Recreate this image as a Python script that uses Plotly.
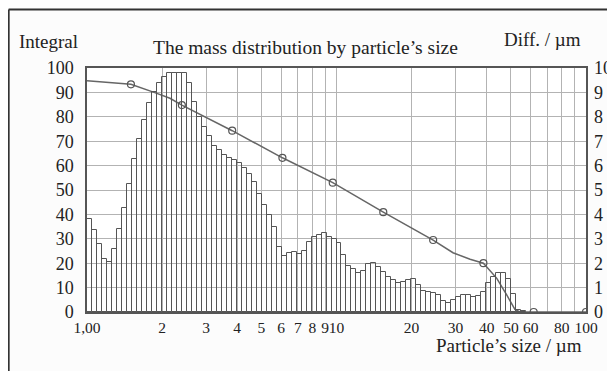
import plotly.graph_objects as go

# ---------------- data ----------------
bins_per_decade = 50
# differential distribution (Diff. / µm, right axis), one value per log-spaced bin starting at 1 µm
diff_values = [
    3.80, 3.36, 2.77, 2.17, 2.04, 2.58, 3.40, 4.27, 5.23, 6.26,
    7.09, 7.87, 8.55, 9.00, 9.37, 9.65, 9.78, 9.80, 9.80, 9.80,
    9.40, 8.60, 8.00, 7.60, 7.20, 6.80, 6.64, 6.43, 6.30, 6.23,
    6.10, 5.90, 5.66, 5.34, 4.84, 4.40, 3.97, 3.50, 2.65, 2.30,
    2.40, 2.47, 2.38, 2.50, 2.88, 3.09, 3.16, 3.25, 3.09, 2.99,
    2.84, 2.35, 1.90, 1.75, 1.60, 1.70, 1.95, 2.00, 1.85, 1.65,
    1.45, 1.30, 1.20, 1.24, 1.31, 1.34, 1.10, 0.85, 0.80, 0.78,
    0.70, 0.45, 0.38, 0.49, 0.60, 0.68, 0.71, 0.63, 0.66, 0.82,
    1.17, 1.42, 1.61, 1.61, 1.34, 0.74, 0.08, 0.03,
]

# integral (cumulative) curve, left axis
curve_x = [1.0, 1.50, 1.87, 2.15, 2.40, 3.82, 6.07, 9.66, 15.4, 24.4,
           29.3, 34.3, 38.8, 43.9, 48.1, 51.9, 54.4, 61.7, 100.0]
curve_y = [94.8, 93.3, 89.9, 87.6, 84.8, 74.3, 63.2, 53.0, 40.9, 29.5,
           24.3, 21.6, 20.0, 13.8, 7.0, 1.1, 0.0, 0.0, 0.0]
marker_x = [1.50, 2.40, 3.82, 6.07, 9.66, 15.4, 24.4, 38.8, 61.7, 100.0]
marker_y = [93.3, 84.8, 74.3, 63.2, 53.0, 40.9, 29.5, 20.0, 0.0, 0.0]

x_tickvals = [1, 2, 3, 4, 5, 6, 7, 8, 9, 10, 20, 30, 40, 50, 60, 70, 80, 90, 100]
x_ticktext = ["1,00", "2", "3", "4", "5", "6", "7", "8", "9", "10",
              "20", "30", "40", "50", "60", "", "80", "", "100"]
left_ticks = list(range(0, 101, 10))
right_ticks = list(range(0, 11, 1))

# ---------------- bins ----------------
bin_lo = [10 ** (k / bins_per_decade) for k in range(len(diff_values))]
bin_hi = [10 ** ((k + 1) / bins_per_decade) for k in range(len(diff_values))]
bin_w = [h - l for l, h in zip(bin_lo, bin_hi)]

FONT = "Liberation Serif"
GRID = "#b3b3b3"
DARK = "#555555"
TXT = "#222222"
TICK = 18

fig = go.Figure()
fig.add_trace(go.Bar(
    x=bin_lo, y=diff_values, width=bin_w, offset=0, yaxis="y2",
    marker=dict(color="rgba(255,255,255,0)", line=dict(color=DARK, width=1)),
    showlegend=False, hoverinfo="skip",
))
fig.add_trace(go.Scatter(
    x=curve_x, y=curve_y, mode="lines",
    line=dict(color="#666666", width=1.5), showlegend=False,
))
fig.add_trace(go.Scatter(
    x=marker_x, y=marker_y, mode="markers",
    marker=dict(symbol="circle-open", size=7, color="#555555", line=dict(width=1.2)),
    showlegend=False,
))

# the page body has an 8px margin, so the figure is 8px smaller than the window
fig.update_layout(
    width=607, height=363, autosize=False,
    margin=dict(l=79, r=29, t=60, b=59, autoexpand=False),
    paper_bgcolor="#fcfcfc", plot_bgcolor="#ffffff",
    font=dict(family=FONT, size=TICK, color=TXT),
    xaxis=dict(
        type="log", range=[0, 2], tickvals=x_tickvals, ticktext=x_ticktext,
        tickangle=0, automargin=False,
        showgrid=True, gridcolor=GRID, gridwidth=1.3,
        showline=True, linecolor=DARK, linewidth=1.5, mirror=True,
        ticks="", zeroline=False, ticklabelstandoff=1,
        tickfont=dict(family=FONT, size=15.5, color=TXT),
    ),
    yaxis=dict(
        range=[0, 100], tickvals=left_ticks, automargin=False,
        showgrid=True, gridcolor=GRID, gridwidth=1.3,
        showline=True, linecolor=DARK, linewidth=1.5, mirror=True,
        ticks="", zeroline=False, ticklabelstandoff=8,
        tickfont=dict(family=FONT, size=TICK, color=TXT),
    ),
    yaxis2=dict(
        range=[0, 10], tickvals=right_ticks, overlaying="y", side="right",
        automargin=False, showgrid=False, zeroline=False, ticks="",
        ticklabelstandoff=7,
        tickfont=dict(family=FONT, size=TICK, color=TXT),
    ),
    bargap=0,
)

def ann(text, x, y, xanchor, size):
    fig.add_annotation(text=text, xref="paper", yref="paper", x=x, y=y,
                       xanchor=xanchor, yanchor="middle", showarrow=False,
                       font=dict(family=FONT, size=size, color=TXT))

ann("Integral", -0.14, 1.11, "left", 19)
ann("The mass distribution by particle’s size", 0.437, 1.086, "center", 19.5)
ann("Diff. / µm", 0.994, 1.115, "right", 19)
ann("Particle’s size / µm", 0.996, -0.139, "right", 19)

# outer frame (top and left edges)
fig.add_shape(type="line", xref="paper", yref="paper", x0=-0.157, x1=-0.157,
              y0=-0.3, y1=1.24, line=dict(color="#333333", width=2))
fig.add_shape(type="line", xref="paper", yref="paper", x0=-0.157, x1=1.1,
              y0=1.24, y1=1.24, line=dict(color="#333333", width=2))

fig.write_html("out.html")
